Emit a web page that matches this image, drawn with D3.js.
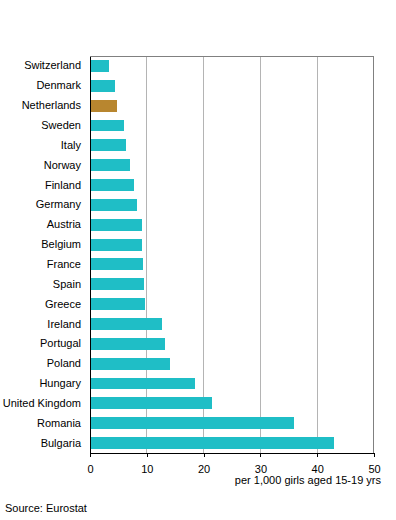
<!DOCTYPE html>
<html>
<head>
<meta charset="utf-8">
<script src="https://cdn.jsdelivr.net/npm/d3@7"></script>
<style>
  body { margin: 0; background: #fff; }
  text { font-family: "Liberation Sans", Arial, sans-serif; }
</style>
</head>
<body>
<div id="chart"></div>
<script>
// data
var countries = ["Switzerland", "Denmark", "Netherlands", "Sweden", "Italy", "Norway", "Finland",
  "Germany", "Austria", "Belgium", "France", "Spain", "Greece", "Ireland", "Portugal", "Poland",
  "Hungary", "United Kingdom", "Romania", "Bulgaria"];
var values = [3.4, 4.4, 4.8, 6.0, 6.4, 7.1, 7.8, 8.3, 9.2, 9.2, 9.35, 9.5, 9.7, 12.7, 13.2, 14.1,
  18.4, 21.5, 35.9, 42.9];
var highlight = "Netherlands";
var xTicks = [0, 10, 20, 30, 40, 50];
var axisTitle = "per 1,000 girls aged 15-19 yrs";
var source = "Source: Eurostat";

var W = 396, H = 520;
var margin = { top: 56, right: 22, bottom: 67, left: 90 },
  width = W - margin.left - margin.right,
  height = H - margin.top - margin.bottom;

var svg = d3.select("#chart")
  .append("svg")
  .attr("width", W)
  .attr("height", H);

var g = svg.append("g")
  .attr("transform", "translate(" + margin.left + "," + margin.top + ")");

var x = d3.scaleLinear()
  .domain([0, 50])
  .range([0, width]);

var y = d3.scaleBand()
  .domain(countries)
  .range([0, height])
  .paddingInner(0.4)
  .paddingOuter(0.2);

// gridlines
g.append("g")
  .selectAll("line")
  .data(xTicks.filter(function (d) { return d > 0 && d < 50; }))
  .enter()
  .append("line")
  .attr("x1", function (d) { return x(d); })
  .attr("x2", function (d) { return x(d); })
  .attr("y1", 0)
  .attr("y2", height)
  .attr("stroke", "#b4b4b4")
  .attr("stroke-width", 1)
  .attr("shape-rendering", "crispEdges");

// top & right border
g.append("path")
  .attr("d", "M0,0.5H" + (x(50) - 0.5) + "V" + height)
  .attr("fill", "none")
  .attr("stroke", "#808080")
  .attr("stroke-width", 1)
  .attr("shape-rendering", "crispEdges");

// bars
var data = countries.map(function (c, i) { return { name: c, value: values[i] }; });
g.append("g")
  .selectAll("rect")
  .data(data)
  .enter()
  .append("rect")
  .attr("x", 0)
  .attr("y", function (d) { return y(d.name); })
  .attr("width", function (d) { return x(d.value); })
  .attr("height", y.bandwidth())
  .attr("fill", function (d) { return d.name == highlight ? "#b8862f" : "#1fbec6"; })
  .attr("shape-rendering", "crispEdges");

// x axis
var xAxis = g.append("g")
  .attr("transform", "translate(0," + height + ")")
  .call(d3.axisBottom(x).tickValues(xTicks).tickSize(4).tickPadding(8));
xAxis.select(".domain").attr("stroke", "#000").attr("shape-rendering", "crispEdges");
xAxis.selectAll(".tick line").attr("stroke", "#000").attr("shape-rendering", "crispEdges");
xAxis.selectAll(".tick text")
  .style("font-size", "11px")
  .style("font-family", "'Liberation Sans', Arial, sans-serif")
  .attr("fill", "#000");

// y axis
var yAxis = g.append("g")
  .call(d3.axisLeft(y).tickSize(0).tickPadding(9));
yAxis.select(".domain").attr("stroke", "#000").attr("shape-rendering", "crispEdges");
yAxis.selectAll(".tick text")
  .style("font-size", "11px")
  .style("font-family", "'Liberation Sans', Arial, sans-serif")
  .attr("fill", "#000");

// axis title
g.append("text")
  .attr("x", x(50) + 7)
  .attr("y", height + 31)
  .attr("text-anchor", "end")
  .style("font-size", "11px")
  .attr("fill", "#000")
  .text(axisTitle);

// source
svg.append("text")
  .attr("x", 5)
  .attr("y", 512)
  .style("font-size", "11px")
  .attr("fill", "#000")
  .text(source);
</script>
</body>
</html>
